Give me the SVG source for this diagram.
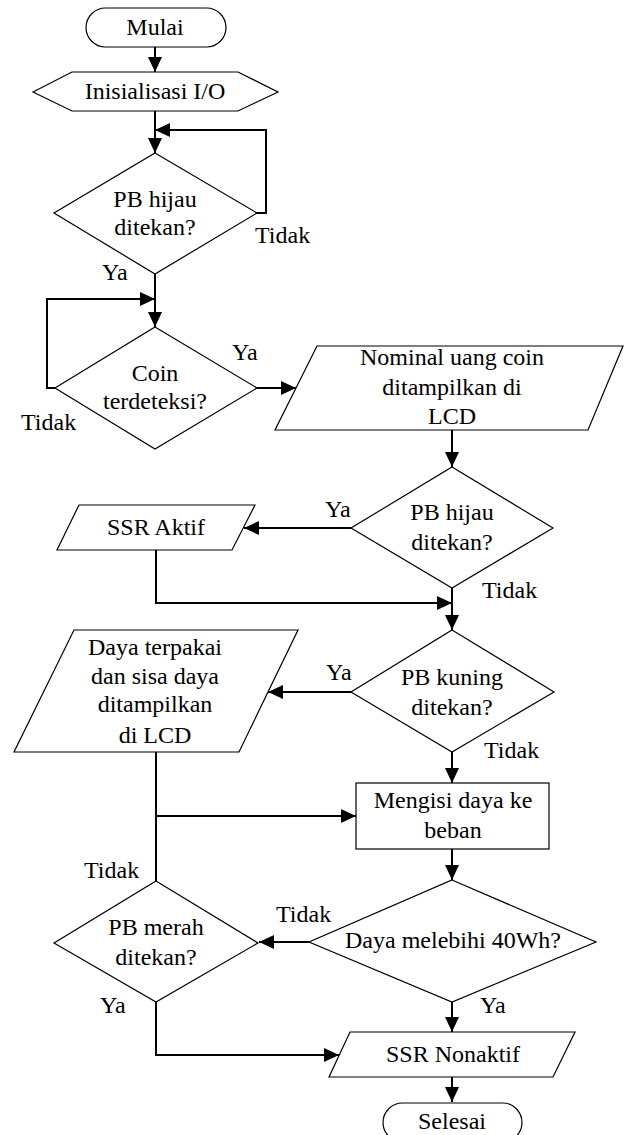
<svg xmlns="http://www.w3.org/2000/svg" width="627" height="1135" viewBox="0 0 627 1135">
<style>
.s{fill:#fff;stroke:#000;stroke-width:1.2}
.c{fill:none;stroke:#000;stroke-width:2}
.a{marker-end:url(#ah)}
text{font-family:"Liberation Serif","Times New Roman",serif;font-size:24px;fill:#000}
.m{text-anchor:middle}
</style>
<defs>
<marker id="ah" markerUnits="userSpaceOnUse" markerWidth="15" markerHeight="14" refX="15" refY="7" orient="auto">
<path d="M0,0 L15,7 L0,14 z" fill="#000"/>
</marker>
</defs>
<rect width="627" height="1135" fill="#fff"/>
<g id="connectors">
<path class="c a" d="M155,47 V72"/>
<path class="c a" d="M155,111 V153"/>
<path class="c a" d="M257,213 H266 V130 H155"/>
<path class="c a" d="M155,274 V327"/>
<path class="c a" d="M55,388 H47 V299 H155"/>
<path class="c a" d="M257,388 H296"/>
<path class="c a" d="M452,430 V467"/>
<path class="c a" d="M351,528 H244"/>
<path class="c a" d="M452,588 V630"/>
<path class="c a" d="M156,550 V603 H452"/>
<path class="c a" d="M351,692 H268"/>
<path class="c a" d="M452,752 V783"/>
<path class="c" d="M156,752 V881"/>
<path class="c a" d="M156,816 H356"/>
<path class="c a" d="M452,849 V880"/>
<path class="c a" d="M309,942 H259"/>
<path class="c a" d="M452,1002 V1032"/>
<path class="c a" d="M156,1002 V1055 H339"/>
<path class="c a" d="M452,1077 V1102"/>
</g>
<g id="mulai">
<rect class="s" x="86" y="8" width="140" height="39" rx="19.5"/>
<text class="m" x="155" y="35">Mulai</text>
</g>
<g id="init">
<polygon class="s" points="33,92 72,72 238,72 278,92 238,111 72,111"/>
<text class="m" x="155" y="99">Inisialisasi I/O</text>
</g>
<g id="d1">
<polygon class="s" points="155,153 257,213 155,274 54,213"/>
<text class="m" x="155" y="207">PB hijau</text>
<text class="m" x="155" y="235">ditekan?</text>
</g>
<g id="d2">
<polygon class="s" points="155,327 257,388 155,449 55,388"/>
<text class="m" x="155" y="381">Coin</text>
<text class="m" x="155" y="409">terdeteksi?</text>
</g>
<g id="nominal">
<polygon class="s" points="317,346 623,346 588,430 275,430"/>
<text class="m" x="452" y="365">Nominal uang coin</text>
<text class="m" x="452" y="395">ditampilkan di</text>
<text class="m" x="452" y="424">LCD</text>
</g>
<g id="d3">
<polygon class="s" points="452,467 553,528 452,588 351,528"/>
<text class="m" x="452" y="520">PB hijau</text>
<text class="m" x="452" y="550">ditekan?</text>
</g>
<g id="ssraktif">
<polygon class="s" points="79,505 255,505 232,550 57,550"/>
<text class="m" x="156" y="535">SSR Aktif</text>
</g>
<g id="daya">
<polygon class="s" points="74,630 298,630 239,752 14,752"/>
<text class="m" x="155" y="655">Daya terpakai</text>
<text class="m" x="155" y="684">dan sisa daya</text>
<text class="m" x="155" y="712">ditampilkan</text>
<text class="m" x="155" y="743">di LCD</text>
</g>
<g id="d4">
<polygon class="s" points="452,630 554,692 452,752 351,692"/>
<text class="m" x="452" y="685">PB kuning</text>
<text class="m" x="452" y="715">ditekan?</text>
</g>
<g id="mengisi">
<rect class="s" x="356" y="783" width="193" height="66"/>
<text class="m" x="453" y="808">Mengisi daya ke</text>
<text class="m" x="453" y="838">beban</text>
</g>
<g id="d5">
<polygon class="s" points="156,881 258,943 156,1002 54,943"/>
<text class="m" x="156" y="935">PB merah</text>
<text class="m" x="156" y="965">ditekan?</text>
</g>
<g id="d6">
<polygon class="s" points="452,880 596,942 452,1002 309,942"/>
<text class="m" x="453" y="948">Daya melebihi 40Wh?</text>
</g>
<g id="ssrnonaktif">
<polygon class="s" points="350,1032 575,1032 553,1077 329,1077"/>
<text class="m" x="453" y="1062">SSR Nonaktif</text>
</g>
<g id="selesai">
<rect class="s" x="383" y="1103" width="139" height="39" rx="19.5"/>
<text class="m" x="452" y="1129">Selesai</text>
</g>
<g id="labels">
<text x="255" y="243">Tidak</text>
<text x="102" y="280">Ya</text>
<text x="232" y="360">Ya</text>
<text x="21" y="430">Tidak</text>
<text x="325" y="517">Ya</text>
<text x="482" y="598">Tidak</text>
<text x="326" y="680">Ya</text>
<text x="484" y="758">Tidak</text>
<text x="84" y="878">Tidak</text>
<text x="276" y="922">Tidak</text>
<text x="100" y="1013">Ya</text>
<text x="480" y="1013">Ya</text>
</g>
</svg>
